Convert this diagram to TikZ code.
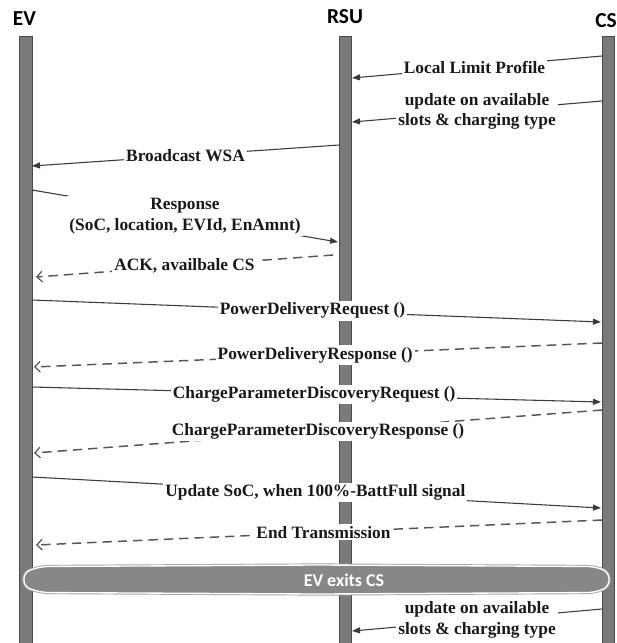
\documentclass[tikz,border=0pt]{standalone}
\usepackage{fontspec}
\setmainfont{Liberation Serif}
\newfontfamily\hdrfont{Carlito}
\usetikzlibrary{arrows.meta}
\definecolor{barfill}{HTML}{7A7A7A}
\definecolor{bardraw}{HTML}{4A4A4A}
\definecolor{linecol}{HTML}{3A3A3A}
\definecolor{dashcol}{HTML}{555555}
\definecolor{exitfill}{HTML}{878787}
\begin{document}
\begin{tikzpicture}[x=0.75pt,y=-0.75pt,
  lifebar/.style={fill=barfill,draw=bardraw,line width=0.6pt},
  hdr/.style={font=\hdrfont\bfseries\fontsize{16}{18}\selectfont,inner sep=0pt},
  lbl/.style={fill=white,inner sep=1.5pt,align=center,text=black!90,font=\bfseries\fontsize{13}{15.5}\selectfont},
  req/.style={draw=linecol,line width=0.8pt,-{Triangle[length=6pt,width=4.5pt]}},
  resp/.style={draw=dashcol,line width=1.1pt,dash pattern=on 7pt off 4.5pt,-{Straight Barb[length=4pt,width=8pt,line width=0.9pt]}},
]
\useasboundingbox (0,0) rectangle (617,643);
% headers
\node[hdr] (ev) at (24.5,19) {EV};
\node[hdr] (rsu) at (345,17) {RSU};
\node[hdr] (cs) at (606,21) {CS};
% lifelines
\path[lifebar] (19,36) rectangle (32,645);
\path[lifebar] (339,36) rectangle (351,645);
\path[lifebar] (602,36) rectangle (614,645);
% anchor points on the lifelines
\coordinate (cs1) at (602,56);   \coordinate (rsu1) at (352,78);
\coordinate (cs2) at (602,101);  \coordinate (rsu2) at (352,122);
\coordinate (rsu3) at (339,145); \coordinate (ev3) at (32,166);
\coordinate (ev4) at (32,190);   \coordinate (rsu4) at (338,242);
\coordinate (rsu5) at (333,255); \coordinate (ev5) at (36,277);
\coordinate (ev6) at (32,300);   \coordinate (cs6) at (601,322);
\coordinate (cs7) at (602,343);  \coordinate (ev7) at (34,367);
\coordinate (ev8) at (32,387);   \coordinate (cs8) at (601,402);
\coordinate (cs9) at (602,410);  \coordinate (ev9) at (34,453);
\coordinate (ev10) at (32,477);  \coordinate (cs10) at (601,508);
\coordinate (cs11) at (602,520); \coordinate (ev11) at (36,545);
\coordinate (cs12) at (602,609); \coordinate (rsu12) at (352,631);
% messages
\draw[req] (cs1) -- node[lbl,pos=0.51] (m1) {Local Limit Profile} (rsu1);
\draw[req] (cs2) -- node[lbl,pos=0.5] (m2) {update on available\\slots \& charging type} (rsu2);
\draw[req] (rsu3) -- node[lbl,pos=0.5] (m3) {Broadcast WSA} (ev3);
\draw[req] (ev4) -- node[lbl,pos=0.5] (m4) {Response\\(SoC, location, EVId, EnAmnt)} (rsu4);
\draw[resp] (rsu5) -- node[lbl,pos=0.5] (m5) {ACK, availbale CS} (ev5);
\draw[req] (ev6) -- node[lbl,pos=0.493] (m6) {PowerDeliveryRequest ()} (cs6);
\draw[resp] (cs7) -- node[lbl,pos=0.505] (m7) {PowerDeliveryResponse ()} (ev7);
\draw[req] (ev8) -- node[lbl,pos=0.496] (m8) {ChargeParameterDiscoveryRequest ()} (cs8);
\draw[resp] (cs9) -- node[lbl,pos=0.5] (m9) {ChargeParameterDiscoveryResponse ()} (ev9);
\draw[req] (ev10) -- node[lbl,pos=0.498] (m10) {Update SoC, when 100\%-BattFull signal} (cs10);
\draw[resp] (cs11) -- node[lbl,pos=0.492] (m11) {End Transmission} (ev11);
\draw[req] (cs12) -- node[lbl,pos=0.5] (m12) {update on available\\slots \& charging type} (rsu12);
% EV exits CS bar
\path[draw=gray!70,line width=2.4pt,rounded corners=5pt]
  (24,572) -- (42,566.5) -- (318,565) -- (594,566.5) -- (609,572) -- (609,587) -- (594,592.5) -- (318,594) -- (42,592.5) -- (24,587) -- cycle;
\path[draw=white,fill=exitfill,line width=1pt,rounded corners=5pt]
  (24,572) -- (42,566.5) -- (318,565) -- (594,566.5) -- (609,572) -- (609,587) -- (594,592.5) -- (318,594) -- (42,592.5) -- (24,587) -- cycle;
\node[font=\hdrfont\bfseries\fontsize{13.5}{15}\selectfont,text=white,inner sep=0pt] (exit) at (344,580) {EV exits CS};
\end{tikzpicture}
\end{document}
